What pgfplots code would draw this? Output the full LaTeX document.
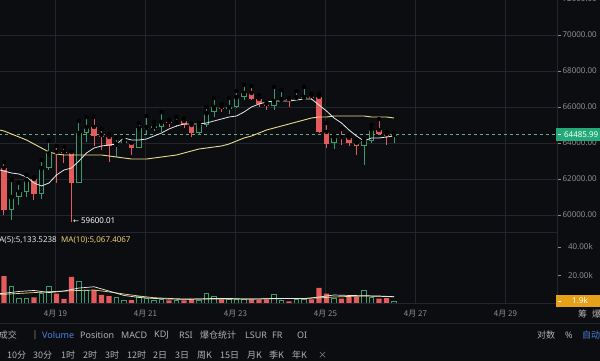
\documentclass[border=0pt]{standalone}
\usepackage{pgfplots}
\pgfplotsset{compat=1.18}
\usepackage{pgfplotstable}
\usepackage{fontspec}
\setmainfont{Noto Sans}
\newfontfamily\cjk{Noto Sans CJK SC}
\newfontfamily\dejavu{DejaVu Sans}
\definecolor{bg}{HTML}{0C0D10}
\definecolor{gridc}{HTML}{22252B}
\definecolor{cred}{HTML}{E35B5B}
\definecolor{cgreen}{HTML}{3B9B6D}
\definecolor{boxgreen}{HTML}{22AA78}
\definecolor{orangebox}{HTML}{E6A11A}
\definecolor{ticklab}{HTML}{8E8E8E}
\definecolor{maw}{HTML}{E8E8E8}
\definecolor{may}{HTML}{E8DC8C}
\definecolor{matext}{HTML}{F0D070}
\definecolor{cblue}{HTML}{4A84E0}
\definecolor{tool}{HTML}{B0B0B0}
\definecolor{dashg}{HTML}{5FAF88}

\pgfplotstableread{
i o h l c
0 62611 62944 60000 60278
4 62000 62111 60833 61167
7 63500 63833 61778 63444
8 63500 63778 62889 63444
9 63500 63500 59600 61778
12 64889 65444 63833 64389
13 64444 64778 63611 64333
14 64333 64500 62944 63833
17 64000 64000 63333 63722
22 65167 65278 64889 65111
24 65222 65389 64833 65000
25 65000 65111 64333 64556
29 66000 66167 65722 65889
33 66778 67167 66389 66444
34 66444 66667 66000 66167
35 66167 66222 65833 66056
38 66444 66444 66000 66389
41 66611 66722 66389 66500
42 66556 66722 64556 64611
43 64611 65111 63722 63944
45 64333 64778 63889 64278
46 64278 64444 63833 64000
47 64000 64167 63333 63833
50 64722 65333 64444 64500
51 64500 64611 63889 64389
}\redtab

\pgfplotstableread{
i o h l c
1 60278 61944 59722 61000
2 61000 61778 60556 61278
3 61278 62222 61000 61944
5 61167 63056 60889 62611
6 62611 64111 62500 63444
10 61778 65222 61778 64556
11 64556 65444 64056 64889
15 63833 64278 63222 63944
16 64000 64333 63944 64111
18 63722 65111 63722 64833
19 64778 65500 64500 64889
20 64833 65167 64667 64944
21 64889 65722 64611 65167
23 65111 65444 64889 65167
26 64556 65111 64444 65000
27 65000 66000 64889 65667
28 65722 66500 65444 66000
30 65889 66500 65611 66000
31 66000 66889 65944 66556
32 66556 67222 66389 66778
36 66056 67111 65833 66333
37 66389 66944 66278 66444
39 66444 66889 66444 66556
40 66500 67111 66444 66556
44 64000 64444 63667 64278
48 63833 64222 62778 64111
49 64111 65000 64000 64778
52 64389 64556 64000 64486
}\greentab

\pgfplotstableread{
i m5 m20
-0.6 62500 64722
0 62444 64667
1 62333 64500
2 62278 64333
3 62111 64167
4 61778 63944
5 61611 63722
6 61778 63500
7 62222 63389
8 62500 63333
9 62611 63333
10 63000 63333
11 63444 63333
12 63722 63333
13 63833 63333
14 63889 63278
15 63944 63222
16 64278 63167
17 64167 63111
18 64167 63111
19 64222 63111
20 64389 63167
21 64556 63222
22 64778 63278
23 64944 63333
24 65056 63444
25 65056 63556
26 65056 63667
27 65111 63722
28 65222 63778
29 65333 63833
30 65444 63944
31 65500 64111
32 65722 64278
33 66000 64389
34 66167 64556
35 66278 64722
36 66333 64833
37 66333 64944
38 66333 65056
39 66389 65167
40 66444 65278
41 66444 65389
42 66111 65444
43 65778 65444
44 65389 65500
45 65111 65500
46 64722 65500
47 64389 65500
48 64111 65500
49 64278 65444
50 64278 65444
51 64333 65444
52 64389 65389
}\matab

\pgfplotstableread{
i v
0 19.5
4 4.7
7 7.3
8 3.6
9 19.1
12 9.8
13 6.4
14 5.5
17 2.8
22 2.5
24 2.5
25 3.5
29 3.2
33 3.2
34 3.0
35 3.2
38 1.9
41 3.2
42 11.3
43 7.3
45 3.7
46 4.9
47 4.9
50 3.7
51 4.2
}\volred

\pgfplotstableread{
i v
1 12.5
2 4.0
3 4.0
5 7.3
6 12.6
10 15.8
11 9.8
15 4.6
16 2.8
18 5.5
19 3.7
20 2.8
21 3.0
23 2.5
26 2.5
27 7.7
28 5.5
30 3.5
31 3.5
32 3.2
36 6.8
37 2.5
39 3.2
40 3.2
44 4.2
48 9.6
49 4.9
52 1.9
}\volgreen

\pgfplotstableread{
i w y
-0.6 7.3 6.8
0 7.5 6.8
2 8.8 7.4
4 9.5 8.0
6 8.0 8.6
8 9.1 9.1
10 11.2 9.5
12 12.1 9.8
14 9.1 8.5
16 6.0 7.0
18 4.6 5.6
20 3.9 4.4
22 3.5 3.9
24 3.3 3.5
26 3.5 3.5
28 3.9 3.5
30 3.9 3.5
32 3.5 3.5
34 3.5 3.6
36 3.9 3.7
38 3.9 3.8
40 3.7 3.9
42 4.9 4.3
44 6.3 4.9
46 6.0 5.3
48 5.8 5.6
50 5.6 5.4
52 5.13 5.07
}\volma

\begin{document}
\begin{tikzpicture}[x=1pt,y=1pt]
\useasboundingbox (0,0) rectangle (600,361);
\clip (0,0) rectangle (600,361);
\fill[bg] (0,0) rectangle (600,361);

% price panel
\begin{axis}[
  at={(0pt,129pt)}, anchor=south west,
  scale only axis, width=557pt, height=232pt,
  xmin=-0.5333, xmax=73.7333,
  ymin=59055.6, ymax=71944.4,
  axis line style={draw=none},
  xtick={6.87,18.87,30.87,42.87,54.87,66.87}, xticklabels={},
  xtick style={draw=none},
  ytick={60000,62000,64000,66000,68000,70000},
  yticklabels={60000.00,62000.00,64000.00,66000.00,68000.00,70000.00},
  yticklabel pos=right, ytick pos=right,
  ytick style={draw=ticklab, line width=0.6pt},
  tick align=outside, major tick length=3.5pt,
  yticklabel style={anchor=east, inner sep=0pt, xshift=36.5pt, font=\fontsize{8}{9}\selectfont, text=ticklab},
  grid=major, major grid style={draw=gridc, line width=0.8pt},
]
% current price line
\addplot[dashg, line width=0.6pt, dash pattern=on 3pt off 3pt, forget plot] coordinates {(-0.6,64486) (73.8,64486)};
% wicks
\addplot[only marks, mark=none, forget plot, error bars/.cd, y dir=minus, y explicit, error mark=none,
  error bar style={line width=1pt, cred}]
  table[x=i, y=h, y error minus expr=\thisrow{h}-\thisrow{l}] {\redtab};
\addplot[only marks, mark=none, forget plot, error bars/.cd, y dir=minus, y explicit, error mark=none,
  error bar style={line width=1pt, cgreen}]
  table[x=i, y=h, y error minus expr=\thisrow{h}-\thisrow{l}] {\greentab};
% bodies
\addplot[only marks, mark=none, forget plot, error bars/.cd, y dir=minus, y explicit, error mark=none,
  error bar style={line width=5.4pt, cred}]
  table[x=i, y=o, y error minus expr={max(\thisrow{o}-\thisrow{c},50)}] {\redtab};
\addplot[only marks, mark=none, forget plot, error bars/.cd, y dir=minus, y explicit, error mark=none,
  error bar style={line width=5.4pt, cgreen}]
  table[x=i, y=c, y error minus expr={max(\thisrow{c}-\thisrow{o},50)}] {\greentab};
\addplot[only marks, mark=none, forget plot, error bars/.cd, y dir=minus, y explicit, error mark=none,
  error bar style={line width=3.8pt, bg}]
  table[x=i, y expr=\thisrow{c}-45, y error minus expr={max(\thisrow{c}-\thisrow{o}-90,0)}] {\greentab};
% MA lines
\addplot[may, line width=0.9pt, mark=none] table[x=i, y=m20] {\matab};
\addplot[maw, line width=0.8pt, mark=none] table[x=i, y=m5] {\matab};
\end{axis}

% volume panel
\begin{axis}[
  at={(0pt,57pt)}, anchor=south west,
  scale only axis, width=557pt, height=72pt,
  xmin=-0.5333, xmax=73.7333, ymin=0, ymax=50.53,
  axis line style={draw=none},
  xtick={6.87,18.87,30.87,42.87,54.87,66.87},
  xticklabels={{4月 19},{4月 21},{4月 23},{4月 25},{4月 27},{4月 29}},
  xticklabel style={anchor=center, yshift=-6.5pt, font=\cjk\fontsize{8}{9}\selectfont, text=ticklab},
  xtick style={draw=none},
  xmajorgrids, major grid style={draw=gridc, line width=0.8pt},
  ytick={20,40}, yticklabels={20.00k,40.00k},
  yticklabel pos=right, ytick pos=right,
  ytick style={draw=ticklab, line width=0.6pt},
  tick align=outside, major tick length=3.5pt,
  yticklabel style={anchor=east, inner sep=0pt, xshift=32.5pt, font=\fontsize{8}{9}\selectfont, text=ticklab},
]
\addplot[ybar, bar width=5.2pt, bar shift=0pt, fill=cred, draw=none, forget plot] table[x=i, y=v] {\volred};
\addplot[ybar, bar width=4.4pt, bar shift=0pt, fill=bg, draw=cgreen, line width=0.8pt, forget plot] table[x=i, y=v] {\volgreen};
\addplot[may, line width=0.7pt, mark=none] table[x=i, y=y] {\volma};
\addplot[maw, line width=0.7pt, mark=none] table[x=i, y=w] {\volma};
\end{axis}

% frame lines
\draw[gridc, line width=0.8pt] (557,53) -- (557,361);
\draw[gridc, line width=0.8pt] (0,129) -- (557,129);
\draw[gridc, line width=0.8pt] (0,57.5) -- (557,57.5);
\draw[gridc, line width=1pt] (0,37) -- (600,37);

% partial top label
\node[anchor=east, inner sep=0pt, text=ticklab, font=\fontsize{8}{9}\selectfont] at (597,362) {72000.00};

% price box
\fill[boxgreen] (556,220) rectangle (600,233);
\draw[white, line width=0.8pt] (557.5,226.6) -- (561,226.6);
\node[anchor=east, inner sep=0pt, text=white, font=\bfseries\fontsize{8}{9}\selectfont] at (598.5,226.6) {64485.99};

% volume box
\fill[orangebox] (556,54) rectangle (600,66);
\draw[white, line width=0.8pt] (557.5,60) -- (561,60);
\node[anchor=center, inner sep=0pt, text=white, font=\fontsize{8}{9}\selectfont] at (580,60) {1.9k};

% annotation
\node[anchor=west, inner sep=0pt, text=white, font=\fontsize{8}{9}\selectfont] at (73,140) {{\dejavu\fontsize{7}{8}\selectfont ←} 59600.01};

% MA text
\node[anchor=east, inner sep=0pt, text=maw, font=\fontsize{8}{9}\selectfont] at (57,121) {MA(5):5,133.5238};
\node[anchor=west, inner sep=0pt, text=matext, font=\fontsize{8}{9}\selectfont] at (61,121) {MA(10):5,067.4067};

% right labels under volume
\node[anchor=center, inner sep=0pt, text=tool, font=\cjk\fontsize{9}{10}\selectfont] at (582.5,47) {筹};
\node[anchor=center, inner sep=0pt, text=tool, font=\cjk\fontsize{9}{10}\selectfont] at (596.5,47) {爆};

% toolbar row 1
\begin{scope}[every node/.style={inner sep=0pt, text=tool, font=\fontsize{9}{10}\selectfont}]
\node[anchor=east, font=\cjk\fontsize{9}{10}\selectfont] at (17,26) {成交};
\node[anchor=center, text=ticklab] at (35,26) {|};
\node[anchor=west, text=cblue] at (42,26) {Volume};
\node[anchor=west] at (80,26) {Position};
\node[anchor=west] at (121,26) {MACD};
\node[anchor=west] at (154,26) {KDJ};
\node[anchor=west] at (179,26) {RSI};
\node[anchor=west, font=\cjk\fontsize{9}{10}\selectfont] at (200,26) {爆仓统计};
\node[anchor=west] at (245,26) {LSUR};
\node[anchor=west] at (272,26) {FR};
\node[anchor=west] at (297,26) {OI};
\node[anchor=west, font=\cjk\fontsize{9}{10}\selectfont] at (537,26) {对数};
\node[anchor=west] at (565,26) {\%};
\node[anchor=west, text=cblue, font=\cjk\fontsize{9}{10}\selectfont] at (582,26) {自动};
\end{scope}

% toolbar row 2
\begin{scope}[every node/.style={inner sep=0pt, anchor=west, text=tool, font=\cjk\fontsize{9}{10}\selectfont}]
\node at (7,6) {10分};
\node at (33,6) {30分};
\node at (61,6) {1时};
\node at (83,6) {2时};
\node at (105,6) {3时};
\node at (127,6) {12时};
\node at (153,6) {2日};
\node at (175,6) {3日};
\node at (197,6) {周K};
\node at (220,6) {15日};
\node at (247,6) {月K};
\node at (269,6) {季K};
\node at (292,6) {年K};
\node[text=ticklab] at (318,6) {×};
\end{scope}
\end{tikzpicture}
\end{document}
